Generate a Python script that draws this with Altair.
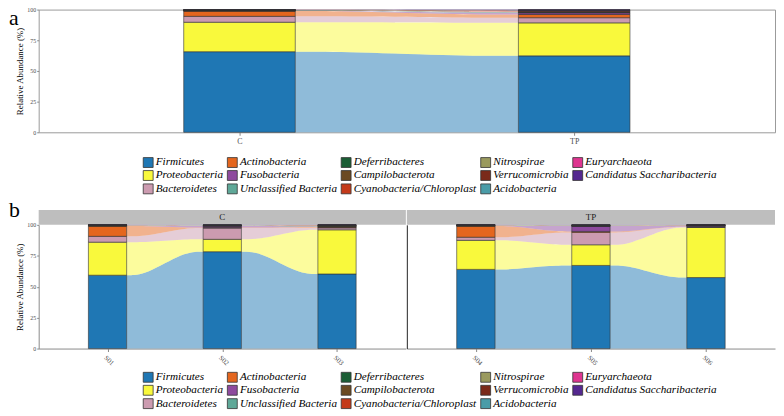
import json
import altair as alt
import pandas as pd

# ---------------- data ----------------
taxa = ["Firmicutes", "Proteobacteria", "Bacteroidetes", "Actinobacteria", "Fusobacteria",
        "Unclassified Bacteria", "Deferribacteres", "Campilobacterota", "Cyanobacteria/Chloroplast",
        "Nitrospirae", "Verrucomicrobia", "Acidobacteria", "Euryarchaeota", "Candidatus Saccharibacteria"]
taxa_colors = ["#1F77B4", "#F9F93C", "#CC9BB0", "#E4661E", "#8E4A9E",
               "#5FA898", "#1B5E35", "#6B4A22", "#C43A1A",
               "#9A9A5E", "#7A2A1A", "#4A9CA8", "#DE3590", "#54278F"]

groups_a = ["C", "TP"]
a_C = [65.7, 24.0, 4.8, 4.3, 0.2, 0.1, 0.3, 0.3, 0.1, 0.02, 0.05, 0.02, 0.02, 0.09]
a_TP = [62.3, 26.9, 4.2, 2.6, 1.4, 0.2, 0.3, 0.3, 0.8, 0.05, 0.3, 0.05, 0.1, 0.5]

samples_C = ["S01", "S02", "S03"]
samples_TP = ["S04", "S05", "S06"]
b_S01 = [59.3, 26.7, 4.7, 8.3, 0.2, 0.1, 0.2, 0.2, 0.1, 0.05, 0.05, 0.05, 0.02, 0.03]
b_S02 = [78.3, 10.0, 9.1, 0.5, 1.2, 0.1, 0.1, 0.2, 0.1, 0.05, 0.1, 0.05, 0.05, 0.15]
b_S03 = [60.3, 35.7, 1.6, 0.6, 0.3, 0.1, 0.3, 0.6, 0.1, 0.05, 0.2, 0.05, 0.05, 0.05]
b_S04 = [64.0, 23.5, 2.5, 9.0, 0.2, 0.1, 0.2, 0.2, 0.1, 0.05, 0.05, 0.05, 0.02, 0.03]
b_S05 = [67.2, 16.7, 10.0, 0.8, 4.3, 0.1, 0.1, 0.2, 0.2, 0.05, 0.1, 0.05, 0.05, 0.15]
b_S06 = [57.4, 40.5, 0.4, 0.2, 0.8, 0.05, 0.2, 0.2, 0.05, 0.02, 0.1, 0.03, 0.02, 0.03]

y_ticks = [0, 25, 50, 75, 100]

# ---------------- helpers ----------------
HALF = 1 / 6   # half bar width in category units
KNOT = 0.25    # flow knot position (fraction of the gap), as in ggalluvial


def build(samples, values):
    bars, flows = [], []
    cums = []
    for i, vals in enumerate(values, start=1):
        cum = 0.0
        c = []
        for t, v in zip(taxa, vals):
            bars.append(dict(x0=i - HALF, x1=i + HALF, y0=cum, y1=cum + v, taxon=t))
            c.append((cum, cum + v))
            cum += v
        cums.append(c)
    for i in range(len(values) - 1):
        L, R = cums[i], cums[i + 1]
        xa, xb = i + 1 + HALF, i + 2 - HALF
        w = xb - xa
        for k, t in enumerate(taxa):
            pts = [(xa, L[k]), (xa + KNOT * w, L[k]), (xb - KNOT * w, R[k]), (xb, R[k])]
            for xx, (lo, hi) in pts:
                flows.append(dict(fx=xx, lo=lo, hi=hi, taxon=t, key=f"{i}-{k}"))
    return pd.DataFrame(bars), pd.DataFrame(flows)


color_scale = alt.Scale(domain=taxa, range=taxa_colors)


def legend(lx, ly):
    return alt.Legend(title=None, orient="none", legendX=lx, legendY=ly, columns=5,
                      symbolType="square", symbolSize=100, symbolStrokeColor="#333333",
                      symbolStrokeWidth=0.8, symbolOpacity=1, labelFont="Liberation Serif",
                      labelFontStyle="italic", labelFontSize=11.3, labelColor="black",
                      rowPadding=-0.5, columnPadding=2, labelOffset=2, padding=0, labelLimit=400)


def panel(labels, values, lg, yaxis, domain_color, xaxis_kw):
    bars, flows = build(labels, values)
    n = len(labels)
    xscale = alt.Scale(domain=[0.4, n + 0.6], nice=False, zero=False)
    yscale = alt.Scale(domain=[0, 100], nice=False, zero=False)
    xaxis = alt.Axis(values=list(range(1, n + 1)),
                     labelExpr=f"{json.dumps(labels)}[datum.value-1]",
                     title=None, grid=False, domainColor=domain_color, tickColor="#888888",
                     tickSize=3, labelColor="#4d4d4d", labelPadding=2, **xaxis_kw)
    flow = alt.Chart(flows).mark_area(opacity=0.5, interpolate="basis").encode(
        x=alt.X("fx:Q", scale=xscale, axis=xaxis),
        y=alt.Y("lo:Q", scale=yscale, axis=yaxis, stack=None),
        y2="hi:Q",
        detail="key:N",
        color=alt.Color("taxon:N", scale=color_scale, legend=lg),
    )
    bar = alt.Chart(bars).mark_rect(stroke="#333333", strokeWidth=0.6).encode(
        x=alt.X("x0:Q", scale=xscale, axis=xaxis),
        x2="x1:Q",
        y=alt.Y("y0:Q", scale=yscale, axis=yaxis),
        y2="y1:Q",
        color=alt.Color("taxon:N", scale=color_scale, legend=lg),
    )
    return flow, bar


def y_axis(domain):
    return alt.Axis(values=y_ticks, title="Relative Abundance (%)", titleFont="Liberation Serif",
                    titleFontSize=9, titleFontWeight="normal", titleColor="black", titlePadding=2,
                    labelFontSize=6, labelColor="#4d4d4d", tickSize=2, tickColor="#888888",
                    grid=False, domain=domain, domainColor="#8a8a8a", labelPadding=1)


# ---------------- panel a ----------------
WA, HA = 744, 124
fa, ba = panel(groups_a, [a_C, a_TP], legend(105, 148.5), y_axis(False), "#8a8a8a",
               dict(labelFontSize=8, labelFont="Liberation Serif", domain=False))
letter_a = alt.Chart(pd.DataFrame({"t": ["a"]})).mark_text(
    font="Liberation Serif", fontSize=22, align="left", baseline="top", color="black"
).encode(text="t:N", x=alt.value(-30), y=alt.value(-1))
chart_a = alt.layer(fa, ba, letter_a).properties(
    width=WA, height=HA, view=alt.ViewBackground(stroke="#9a9a9a", strokeWidth=1))

# ---------------- panel b ----------------
WB1, WB2, HB = 371, 372, 125
lgb = legend(105, 148)
f1, b1 = panel(samples_C, [b_S01, b_S02, b_S03], lgb, y_axis(True), "#8a8a8a",
               dict(labelFontSize=7, labelAngle=45))
y_axis_side = alt.Axis(values=y_ticks, title=None, labels=False, ticks=False, grid=False,
                       domainColor="#222222")
f2, b2 = panel(samples_TP, [b_S04, b_S05, b_S06], lgb, y_axis_side, "#8a8a8a",
               dict(labelFontSize=7, labelAngle=45))


def strip(label, w):
    d = pd.DataFrame({"t": [label]})
    r = alt.Chart(d).mark_rect(color="#BEBEBE").encode(
        x=alt.value(0), x2=alt.value(w), y=alt.value(-15), y2=alt.value(0))
    t = alt.Chart(d).mark_text(font="Liberation Serif", fontSize=9, color="#1a1a1a").encode(
        text="t:N", x=alt.value(w / 2), y=alt.value(-7.5))
    return r, t


r1, t1 = strip(groups_a[0], WB1)
r2, t2 = strip(groups_a[1], WB2)
letter_b = alt.Chart(pd.DataFrame({"t": ["b"]})).mark_text(
    font="Liberation Serif", fontSize=22, align="left", baseline="top", color="black"
).encode(text="t:N", x=alt.value(-30), y=alt.value(-25))

chart_b1 = alt.layer(r1, t1, f1, b1, letter_b).properties(width=WB1, height=HB)
chart_b2 = alt.layer(r2, t2, f2, b2).properties(width=WB2, height=HB)
chart_b = alt.hconcat(chart_b1, chart_b2, spacing=1)

chart = alt.vconcat(chart_a, chart_b, spacing=2.5).resolve_scale(color="independent").properties(
    padding={"left": 0, "top": -4.5, "right": 0, "bottom": 0}
).configure(font="Liberation Serif").configure_view(stroke=None)

chart.save("out.html", embed_options={"renderer": "svg", "actions": False})
